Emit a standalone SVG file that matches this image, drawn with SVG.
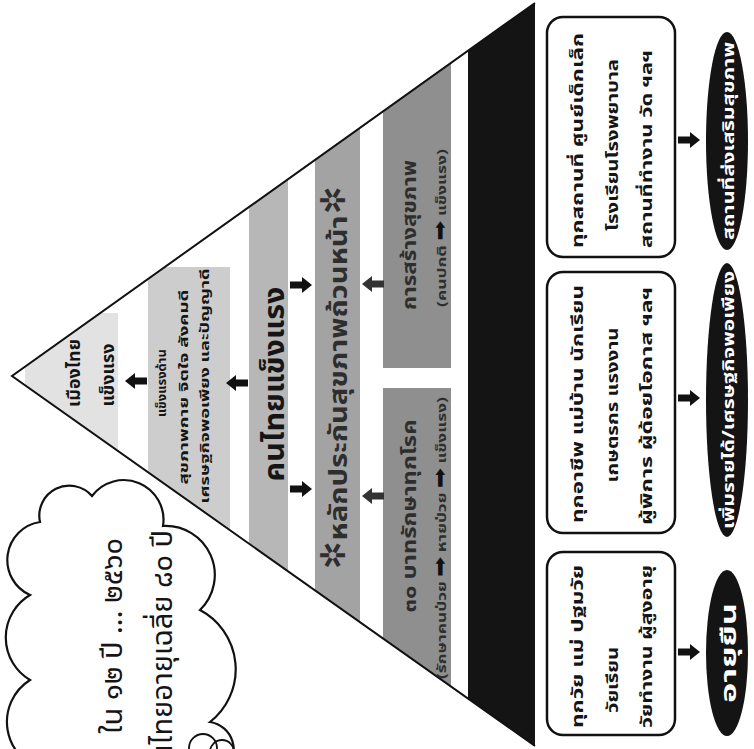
<svg xmlns="http://www.w3.org/2000/svg" width="754" height="749" viewBox="0 0 754 749">
<style>
.t{font-family:"Noto Sans Thai","Tlwg Typist","Garuda","Loma","DejaVu Sans",sans-serif;fill:#151515}
.b{font-weight:bold}
.w{fill:#ffffff}
.d{fill:#2e2e2e}
.box{fill:#ffffff;stroke:#111;stroke-width:2.5}
.ell{fill:#141414}
.edge{stroke:#111;stroke-width:2;fill:none}
</style>
<defs>
<clipPath id="tri"><polygon points="12,376 535,3 535,746"/></clipPath>
<path id="arr" d="M0 0 L-10 -8 L-10 -3.5 L-22 -3.5 L-22 3.5 L-10 3.5 L-10 8 Z"/>
</defs>
<rect width="754" height="749" fill="#ffffff"/>

<g id="pyramid">
<g clip-path="url(#tri)">
<rect x="25" y="313" width="93" height="145" fill="#e2e2e2"/>
<rect x="148" y="267" width="82" height="275" fill="#cdcdcd"/>
<rect x="249" y="0" width="39" height="749" fill="#b7b7b7"/>
<rect x="315" y="0" width="45" height="749" fill="#a3a3a3"/>
<rect x="383" y="0" width="68" height="368" fill="#8f8f8f"/>
<rect x="383" y="388" width="68" height="400" fill="#8f8f8f"/>
<rect x="468" y="0" width="70" height="749" fill="#141414"/>
</g>
<polyline class="edge" points="535,3 12,376 535,746"/>
</g>

<g id="band1">
<text class="t b" font-size="18" text-anchor="middle" transform="translate(80,373) rotate(-90)">เมืองไทย</text>
<text class="t b" font-size="18" text-anchor="middle" transform="translate(114,375) rotate(-90)">แข็งแรง</text>
</g>
<g id="band2">
<text class="t b" font-size="13" text-anchor="middle" transform="translate(166,383) rotate(-90)">แข็งแรงด้าน</text>
<text class="t b" font-size="13" text-anchor="middle" textLength="195" lengthAdjust="spacingAndGlyphs" transform="translate(188,387) rotate(-90)">สุขภาพกาย จิตใจ สังคมดี</text>
<text class="t b" font-size="13" text-anchor="middle" textLength="235" lengthAdjust="spacingAndGlyphs" transform="translate(209,386) rotate(-90)">เศรษฐกิจพอเพียง และปัญญาดี</text>
</g>
<g id="band3">
<text class="t b" font-size="28" text-anchor="middle" textLength="195" lengthAdjust="spacingAndGlyphs" transform="translate(284,384) rotate(-90)">คนไทยแข็งแรง</text>
</g>
<g id="band4">
<text class="t b d" font-size="24" text-anchor="middle" textLength="325" lengthAdjust="spacingAndGlyphs" transform="translate(347,378) rotate(-90)">หลักประกันสุขภาพถ้วนหน้า</text>
<text class="t d" font-size="34" text-anchor="middle" dominant-baseline="central" transform="translate(334,555) rotate(-90)">✲</text>
<text class="t d" font-size="34" text-anchor="middle" dominant-baseline="central" transform="translate(334,200) rotate(-90)">✲</text>
</g>
<g id="band5-upper">
<text class="t b d" font-size="19" text-anchor="middle" textLength="150" lengthAdjust="spacingAndGlyphs" transform="translate(416,235) rotate(-90)">การสร้างสุขภาพ</text>
<text class="t b d" font-size="13" text-anchor="middle" textLength="158" lengthAdjust="spacingAndGlyphs" transform="translate(446,228) rotate(-90)">(คนปกติ <tspan font-size="18" fill="#111">➡</tspan> แข็งแรง)</text>
</g>
<g id="band5-lower">
<text class="t b d" font-size="19" text-anchor="middle" textLength="193" lengthAdjust="spacingAndGlyphs" transform="translate(416,516) rotate(-90)">๓๐ บาทรักษาทุกโรค</text>
<text class="t b d" font-size="13" text-anchor="middle" textLength="282" lengthAdjust="spacingAndGlyphs" transform="translate(446,538) rotate(-90)">(รักษาคนป่วย <tspan font-size="18" fill="#111">➡</tspan> หายป่วย <tspan font-size="18" fill="#111">➡</tspan> แข็งแรง)</text>
</g>

<g id="cloud">
<path d="M45 770 A49.5 49.5 0 0 1 30 680 A49.4 49.4 0 0 1 30 595 A38.4 38.4 0 0 1 40 522 A30 30 0 0 1 92 496 A39.7 39.7 0 0 1 163 526 A49 49 0 0 1 200 610 A67 67 0 0 1 210 722 A28 28 0 0 1 225 770 Z" fill="#ffffff" stroke="#111" stroke-width="2.2"/>
<circle cx="203" cy="748" r="14" fill="none" stroke="#111" stroke-width="1.8"/>
<circle cx="222" cy="752" r="12" fill="none" stroke="#111" stroke-width="1.8"/>
<text class="t" font-size="29" text-anchor="end" transform="translate(122,538) rotate(-90)">ใน ๑๒ ปี ... ๒๕๖๐</text>
<text class="t" font-size="29" text-anchor="end" transform="translate(172,530) rotate(-90)">คนไทยอายุเฉลี่ย ๘๐ ปี</text>
</g>

<g id="boxA">
<rect class="box" x="547" y="17" width="128" height="240" rx="16"/>
<text class="t b" font-size="16" textLength="215" lengthAdjust="spacingAndGlyphs" transform="translate(583,248) rotate(-90)">ทุกสถานที่ ศูนย์เด็กเล็ก</text>
<text class="t b" font-size="16" text-anchor="middle" textLength="172" lengthAdjust="spacingAndGlyphs" transform="translate(618,145) rotate(-90)">โรงเรียนโรงพยาบาล</text>
<text class="t b" font-size="16" textLength="198" lengthAdjust="spacingAndGlyphs" transform="translate(652,248) rotate(-90)">สถานที่ทำงาน วัด ฯลฯ</text>
</g>
<g id="boxB">
<rect class="box" x="547" y="272" width="128" height="261" rx="16"/>
<text class="t b" font-size="16" textLength="238" lengthAdjust="spacingAndGlyphs" transform="translate(583,523) rotate(-90)">ทุกอาชีพ แม่บ้าน นักเรียน</text>
<text class="t b" font-size="16" text-anchor="middle" textLength="155" lengthAdjust="spacingAndGlyphs" transform="translate(618,405) rotate(-90)">เกษตรกร แรงงาน</text>
<text class="t b" font-size="16" textLength="238" lengthAdjust="spacingAndGlyphs" transform="translate(652,525) rotate(-90)">ผู้พิการ ผู้ด้อยโอกาส ฯลฯ</text>
</g>
<g id="boxC">
<rect class="box" x="547" y="552" width="128" height="183" rx="16"/>
<text class="t b" font-size="16" textLength="163" lengthAdjust="spacingAndGlyphs" transform="translate(583,728) rotate(-90)">ทุกวัย แม่ ปฐมวัย</text>
<text class="t b" font-size="16" textLength="66" lengthAdjust="spacingAndGlyphs" transform="translate(618,713) rotate(-90)">วัยเรียน</text>
<text class="t b" font-size="16" textLength="163" lengthAdjust="spacingAndGlyphs" transform="translate(652,728) rotate(-90)">วัยทำงาน ผู้สูงอายุ</text>
</g>

<g id="ellA">
<ellipse class="ell" cx="727" cy="141" rx="21" ry="109"/>
<text class="t b w" font-size="16" text-anchor="middle" textLength="198" lengthAdjust="spacingAndGlyphs" transform="translate(734,141) rotate(-90)">สถานที่ส่งเสริมสุขภาพ</text>
</g>
<g id="ellB">
<ellipse class="ell" cx="727" cy="400" rx="21" ry="137"/>
<text class="t b w" font-size="16" text-anchor="middle" textLength="258" lengthAdjust="spacingAndGlyphs" transform="translate(734,400) rotate(-90)">เพิ่มรายได้/เศรษฐกิจพอเพียง</text>
</g>
<g id="ellC">
<ellipse class="ell" cx="727" cy="653" rx="21" ry="83"/>
<text class="t b w" font-size="21" text-anchor="middle" textLength="100" lengthAdjust="spacingAndGlyphs" transform="translate(736,653) rotate(-90)">อายุยืน</text>
</g>

<g id="connectors" fill="#111">
<use href="#arr" transform="translate(125,381) rotate(180)"/>
<use href="#arr" transform="translate(226,383) rotate(180)"/>
<use href="#arr" transform="translate(312,285)"/>
<use href="#arr" transform="translate(312,489)"/>
<use href="#arr" transform="translate(362,284) rotate(180)" fill="#333"/>
<use href="#arr" transform="translate(362,496) rotate(180)" fill="#333"/>
<use href="#arr" transform="translate(700,140)"/>
<use href="#arr" transform="translate(700,398)"/>
<use href="#arr" transform="translate(700,652)"/>
</g>
</svg>
